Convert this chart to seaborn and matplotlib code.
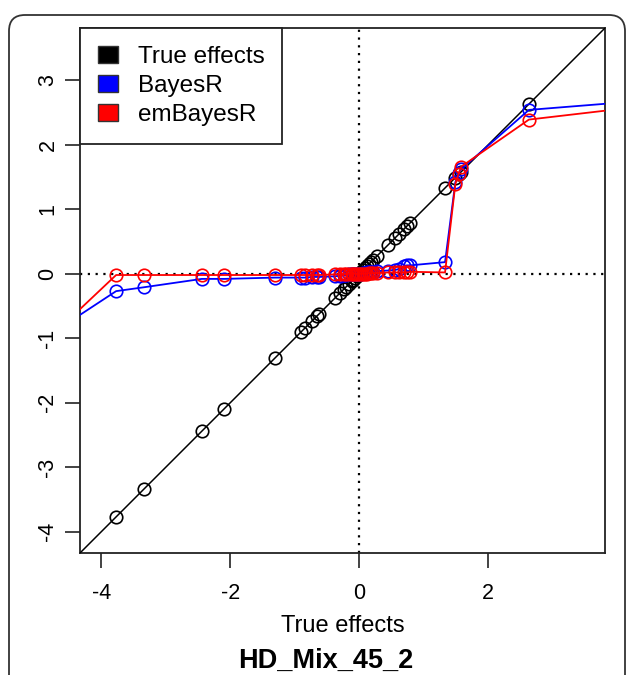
import numpy as np
import pandas as pd
import seaborn as sns
import matplotlib.pyplot as plt
from matplotlib.patches import Patch, FancyBboxPatch
from matplotlib.transforms import IdentityTransform

# true QTL effects and the two estimates
true_effects = [-4.50, -3.77, -3.34, -2.44, -2.09, -1.31, -0.90, -0.84, -0.73, -0.66, -0.62,
                -0.38, -0.30, -0.24, -0.20, -0.16, -0.12, -0.09, -0.06, -0.03, 0.00,
                0.03, 0.06, 0.09, 0.12, 0.15, 0.18, 0.22, 0.27, 0.45, 0.56, 0.61,
                0.69, 0.74, 0.79, 1.33, 1.49, 1.54, 1.58, 2.63, 4.00]
bayesr = [-0.75, -0.27, -0.21, -0.08, -0.08, -0.06, -0.06, -0.06, -0.05, -0.05, -0.05,
          -0.04, -0.03, -0.02, -0.02, -0.01, -0.01, 0.00, 0.00, 0.00, 0.00,
          0.00, 0.01, 0.01, 0.02, 0.02, 0.03, 0.03, 0.04, 0.05, 0.06, 0.07,
          0.12, 0.13, 0.13, 0.18, 1.42, 1.56, 1.62, 2.54, 2.65]
embayesr = [-0.71, -0.02, -0.02, -0.02, -0.02, -0.02, -0.02, -0.02, -0.02, -0.02, -0.02,
            -0.01, -0.01, -0.01, 0.00, 0.00, 0.00, 0.00, 0.00, 0.00, 0.00,
            0.00, 0.00, 0.00, 0.00, 0.01, 0.01, 0.01, 0.01, 0.02, 0.02, 0.02,
            0.02, 0.02, 0.03, 0.02, 1.39, 1.55, 1.66, 2.39, 2.55]

labels = ["True effects", "BayesR", "emBayesR"]
colors = ["black", "blue", "red"]
lims = (-4.33, 3.81)

sns.set_style("white")
plt.rcParams['font.family'] = ['Liberation Sans', 'DejaVu Sans']
plt.rcParams['axes.unicode_minus'] = False
plt.rcParams['text.color'] = 'black'
plt.rcParams['axes.labelcolor'] = 'black'
plt.rcParams['xtick.color'] = 'black'
plt.rcParams['ytick.color'] = 'black'

df = pd.DataFrame({
    "x": true_effects * 3,
    "y": true_effects + bayesr + embayesr,
    "method": np.repeat(labels, len(true_effects)),
})

fig = plt.figure(figsize=(6.29, 6.75), dpi=100)
ax = fig.add_axes([80 / 629, 1 - 553 / 675, 525 / 629, 525 / 675])

ax.axline((0, 0), slope=1, color="#444444", lw=0.9, zorder=1)
ax.axhline(0, color="black", ls=(0, (1, 2.5)), lw=1.6, zorder=1)
ax.axvline(0, color="black", ls=(0, (1, 2.5)), lw=1.6, zorder=1)

for lab, col in zip(labels, colors):
    sub = df[df["method"] == lab]
    sns.lineplot(data=sub, x="x", y="y", estimator=None, sort=True, ax=ax,
                 color=col, lw=0.9 if lab == "True effects" else 1.3,
                 marker="o", ms=9, mfc="none", mec=col, mew=1.2, zorder=3)

ax.set_xlim(*lims)
ax.set_ylim(*lims)
ax.set_xticks([-4, -2, 0, 2])
ax.set_yticks([-4, -3, -2, -1, 0, 1, 2, 3])
ax.set_yticklabels([str(v) for v in [-4, -3, -2, -1, 0, 1, 2, 3]], rotation=90, va="center")
ax.tick_params(direction="out", length=10.5, width=1.2, color="#222222", labelsize=15.5,
               bottom=True, left=True)
ax.tick_params(axis="x", pad=11)
ax.tick_params(axis="y", pad=5)
for s in ax.spines.values():
    s.set_color("#222222")
    s.set_linewidth(1.3)
ax.set_xlabel("True effects", fontsize=17, labelpad=8)
ax.set_ylabel("")

handles = [Patch(facecolor=c, edgecolor="#333333", lw=1) for c in colors]
leg = ax.legend(handles, labels, loc="upper left", bbox_to_anchor=(0, 1), borderaxespad=0,
                fontsize=17.5, frameon=True, fancybox=False, handlelength=0.85,
                handleheight=0.7, handletextpad=0.8, labelspacing=0.3, borderpad=0.72)
leg.get_frame().set_edgecolor("#222222")
leg.get_frame().set_linewidth(1.3)
leg.get_frame().set_alpha(1)

fig.text(326 / 629, 1 - 661 / 675, "HD_Mix_45_2", ha="center", va="center",
         fontsize=19.5, fontweight="bold")

frame = FancyBboxPatch((9, -40), 616, 700, boxstyle="round,pad=0,rounding_size=16",
                       transform=IdentityTransform(), fill=False, ec="#333333", lw=1.3)
fig.patches.append(frame)

fig.savefig("out.png", dpi=100)
